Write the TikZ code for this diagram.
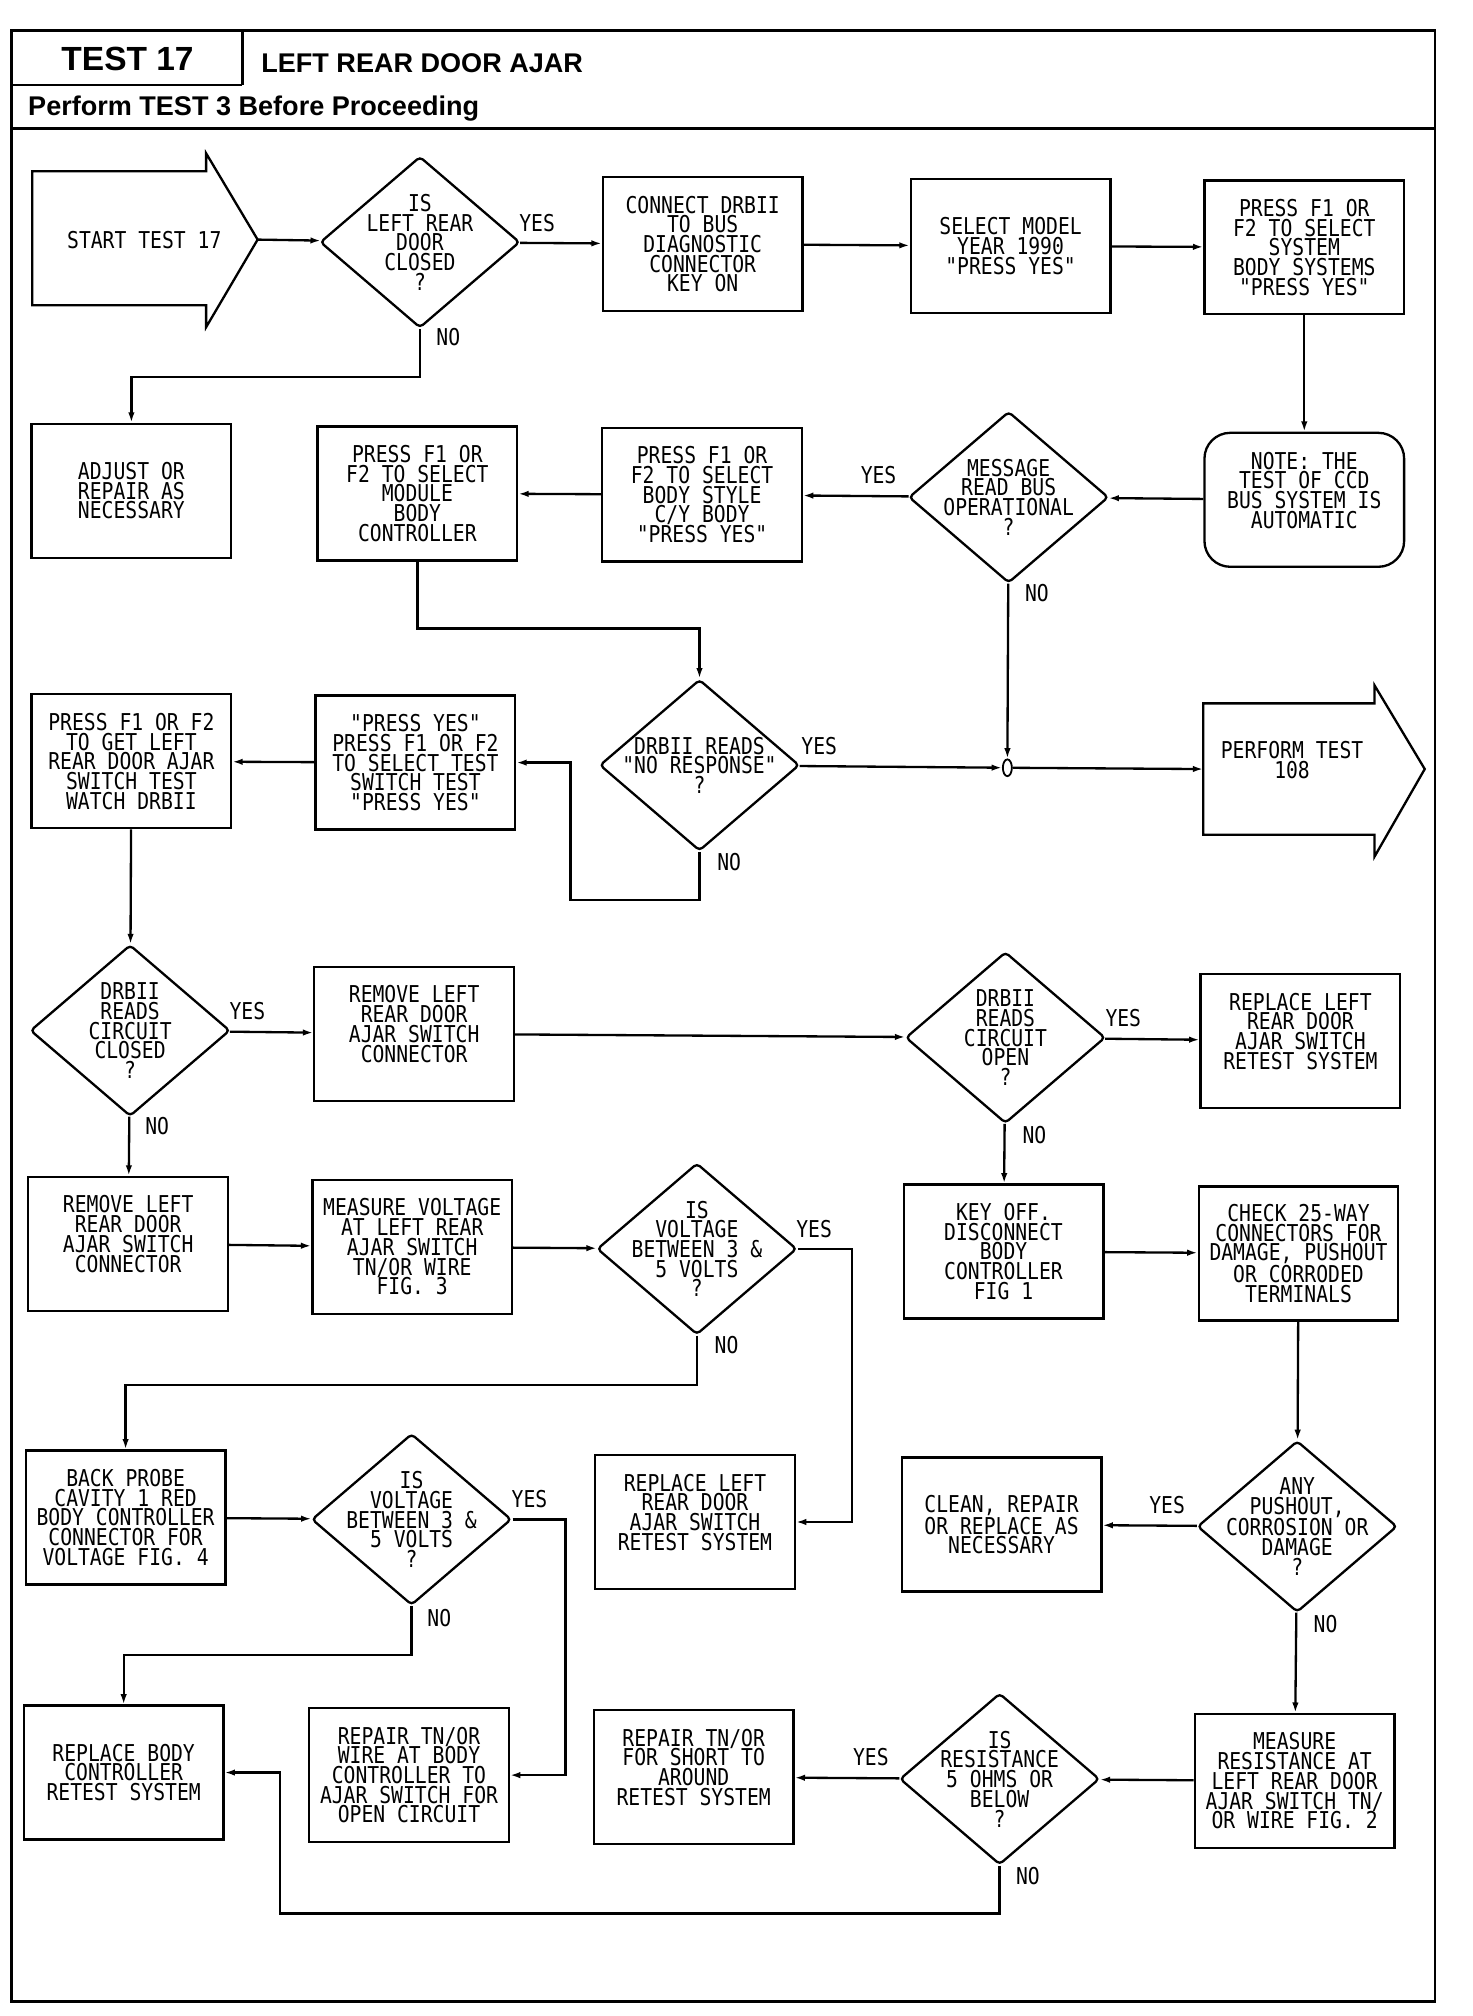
\documentclass[tikz,border=0pt]{standalone}
\usepackage{fontspec}
\setmainfont{Liberation Sans}
\newfontfamily\plotter[FakeStretch=0.85]{DejaVu Sans Mono}
\usetikzlibrary{shapes.geometric,arrows.meta}
\begin{document}
\begin{tikzpicture}[x=1pt,y=-1pt,line width=1.8pt,
    >={Latex[length=8pt,width=5pt]},
    every node/.style={font=\plotter\fontsize{18}{15.3}\selectfont,align=center,inner sep=0pt},
    box/.style={draw,minimum width=155pt,minimum height=104pt},
    notebox/.style={box,rounded corners=20pt},
    dia/.style={draw,diamond,minimum width=155pt,minimum height=133pt,rounded corners=3pt},
    head/.style={font=\bfseries\fontsize{21}{21}\selectfont,anchor=west}]
  \useasboundingbox (0,0) rectangle (1143,1565);
  \draw[line width=2.2pt] (9,24) rectangle (1114,1554);
  \draw[line width=2.2pt] (9,66) -- (188,66) (188,24) -- (188,66) (9,100) -- (1114,100);
  \node[font=\bfseries\fontsize{26}{26}\selectfont] (testno) at (99,46) {TEST 17};
  \node[head] (title) at (202,49) {LEFT REAR DOOR AJAR};
  \node[head] (before) at (21,84) {Perform TEST 3 Before Proceeding};

  \draw (25,133) -- (160,133) -- (160,119) -- (200,186) -- (160,254) -- (160,237) -- (25,237) -- cycle;
  \coordinate (start) at (200,186);
  \node (startt) at (112,186) {START TEST 17};
  \draw (934,546) -- (1067,546) -- (1067,532) -- (1106,597) -- (1067,665) -- (1067,648) -- (934,648) -- cycle;
  \coordinate (perform) at (934,597);
  \node (performt) at (1003,590) {PERFORM TEST\\108};

  \node[dia] (d1) at (326,188) {};
  \node (d1t) at (d1) {IS\\LEFT REAR\\DOOR\\CLOSED\\?};
  \node[box] (connect) at (545.5,189.5) {CONNECT DRBII\\TO BUS\\DIAGNOSTIC\\CONNECTOR\\KEY ON};
  \node[box] (select) at (784.5,191) {SELECT MODEL\\YEAR 1990\\"PRESS YES"};
  \node[box] (pressys) at (1012.5,192) {PRESS F1 OR\\F2 TO SELECT\\SYSTEM\\BODY SYSTEMS\\"PRESS YES"};

  \node[box] (adjust) at (102,381) {ADJUST OR\\REPAIR AS\\NECESSARY};
  \node[box] (module) at (324,383) {PRESS F1 OR\\F2 TO SELECT\\MODULE\\BODY\\CONTROLLER};
  \node[box] (bodystyle) at (545,384) {PRESS F1 OR\\F2 TO SELECT\\BODY STYLE\\C/Y BODY\\"PRESS YES"};
  \node[dia] (dmsg) at (783,386) {};
  \node (dmsgt) at (dmsg) {MESSAGE\\READ BUS\\OPERATIONAL\\?};
  \node[notebox] (note) at (1012.5,388) {NOTE: THE\\TEST OF CCD\\BUS SYSTEM IS\\AUTOMATIC\\~};

  \node[box] (getsw) at (102,591) {PRESS F1 OR F2\\TO GET LEFT\\REAR DOOR AJAR\\SWITCH TEST\\WATCH DRBII};
  \node[box] (pressyes) at (322.5,592) {"PRESS YES"\\PRESS F1 OR F2\\TO SELECT TEST\\SWITCH TEST\\"PRESS YES"};
  \node[dia] (d3) at (543,594) {};
  \node (d3t) at (d3) {DRBII READS\\"NO RESPONSE"\\?};
  \node[draw,ellipse,minimum width=7pt,minimum height=13pt,line width=1.4pt] (jn) at (782,596) {};

  \node[dia] (d4) at (101,800) {};
  \node (d4t) at (d4) {DRBII\\READS\\CIRCUIT\\CLOSED\\?};
  \node[box] (removea) at (321.5,802.5) {REMOVE LEFT\\REAR DOOR\\AJAR SWITCH\\CONNECTOR\\~};
  \node[dia] (d5) at (780.5,805.5) {};
  \node (d5t) at (d5) {DRBII\\READS\\CIRCUIT\\OPEN\\?};
  \node[box] (replacea) at (1009.5,808) {REPLACE LEFT\\REAR DOOR\\AJAR SWITCH\\RETEST SYSTEM\\~};

  \node[box] (removeb) at (99.5,965.5) {REMOVE LEFT\\REAR DOOR\\AJAR SWITCH\\CONNECTOR\\~};
  \node[box] (measv) at (320,968) {MEASURE VOLTAGE\\AT LEFT REAR\\AJAR SWITCH\\TN/OR WIRE\\FIG. 3};
  \node[dia] (d6) at (541,969.5) {};
  \node (d6t) at (d6) {IS\\VOLTAGE\\BETWEEN 3 \&\\5 VOLTS\\?};
  \node[box] (keyoff) at (779,971.5) {KEY OFF.\\DISCONNECT\\BODY\\CONTROLLER\\FIG 1};
  \node[box] (check) at (1008,973) {CHECK 25-WAY\\CONNECTORS FOR\\DAMAGE, PUSHOUT\\OR CORRODED\\TERMINALS};

  \node[box] (probe) at (97.5,1178) {BACK PROBE\\CAVITY 1 RED\\BODY CONTROLLER\\CONNECTOR FOR\\VOLTAGE FIG. 4};
  \node[dia] (d7) at (319.5,1179.5) {};
  \node (d7t) at (d7) {IS\\VOLTAGE\\BETWEEN 3 \&\\5 VOLTS\\?};
  \node[box] (replaceb) at (539.5,1181.5) {REPLACE LEFT\\REAR DOOR\\AJAR SWITCH\\RETEST SYSTEM\\~};
  \node[box] (clean) at (777.5,1183.5) {CLEAN, REPAIR\\OR REPLACE AS\\NECESSARY};
  \node[dia] (dany) at (1007,1185) {};
  \node (danyt) at (dany) {ANY\\PUSHOUT,\\CORROSION OR\\DAMAGE\\?};

  \node[box] (replbody) at (96,1376) {REPLACE BODY\\CONTROLLER\\RETEST SYSTEM};
  \node[box] (repopen) at (317.5,1378) {REPAIR TN/OR\\WIRE AT BODY\\CONTROLLER TO\\AJAR SWITCH FOR\\OPEN CIRCUIT};
  \node[box] (repshort) at (538.5,1379.5) {REPAIR TN/OR\\FOR SHORT TO\\AROUND\\RETEST SYSTEM\\~};
  \node[dia] (d8) at (776,1381) {};
  \node (d8t) at (d8) {IS\\RESISTANCE\\5 OHMS OR\\BELOW\\?};
  \node[box] (measr) at (1005,1382.5) {MEASURE\\RESISTANCE AT\\LEFT REAR DOOR\\AJAR SWITCH TN/\\OR WIRE FIG. 2};

  \draw[->] (start) -- (d1);
  \draw[->] (d1) -- (connect);
  \draw[->] (connect) -- (select);
  \draw[->] (select) -- (pressys);
  \draw[->] (pressys) -- (note);
  \draw[->] (d1.south) -- ++(0,37) -| (adjust.north);
  \draw[->] (note) -- (dmsg);
  \draw[->] (dmsg) -- (bodystyle);
  \draw[->] (bodystyle) -- (module);
  \draw[->] (module.south) -- ++(0,52) -| (d3.north);
  \draw[->] (dmsg) -- (jn);
  \draw[->] (d3) -- (jn);
  \draw[->] (jn) -- (perform);
  \draw[->] (d3.south) -- ++(0,37) -| ([xshift=42pt]pressyes.east) -- (pressyes.east);
  \draw[->] (pressyes) -- (getsw);
  \draw[->] (getsw) -- (d4);
  \draw[->] (d4) -- (removea);
  \draw[->] (removea) -- (d5);
  \draw[->] (d5) -- (replacea);
  \draw[->] (d4) -- (removeb);
  \draw[->] (d5) -- (keyoff);
  \draw[->] (removeb) -- (measv);
  \draw[->] (measv) -- (d6);
  \draw[->] (d6.east) -- ++(42,0) |- (replaceb.east);
  \draw[->] (d6.south) -- ++(0,38) -| (probe.north);
  \draw[->] (keyoff) -- (check);
  \draw[->] (check) -- (dany);
  \draw[->] (probe) -- (d7);
  \draw[->] (d7.east) -- ++(41,0) |- (repopen.east);
  \draw[->] (d7.south) -- ++(0,38) -| (replbody.north);
  \draw[->] (dany) -- (clean);
  \draw[->] (dany) -- (measr);
  \draw[->] (measr) -- (d8);
  \draw[->] (d8) -- (repshort);
  \draw[->] (d8.south) -- ++(0,37) -| ([xshift=43pt]replbody.east) -- (replbody.east);

  \node (y1) at (417,173) {YES};
  \node (n1) at (348,262) {NO};
  \node (y2) at (682,369) {YES};
  \node (n2) at (805,460) {NO};
  \node (y3) at (636,579) {YES};
  \node (n3) at (566,669) {NO};
  \node (y4) at (192,785) {YES};
  \node (n4) at (122,874) {NO};
  \node (y5) at (872,790) {YES};
  \node (n5) at (803,881) {NO};
  \node (y6) at (632,954) {YES};
  \node (n6) at (564,1044) {NO};
  \node (y7) at (411,1164) {YES};
  \node (n7) at (341,1256) {NO};
  \node (y8) at (906,1168) {YES};
  \node (n8) at (1029,1261) {NO};
  \node (y9) at (676,1364) {YES};
  \node (n9) at (798,1456) {NO};
\end{tikzpicture}
\end{document}
